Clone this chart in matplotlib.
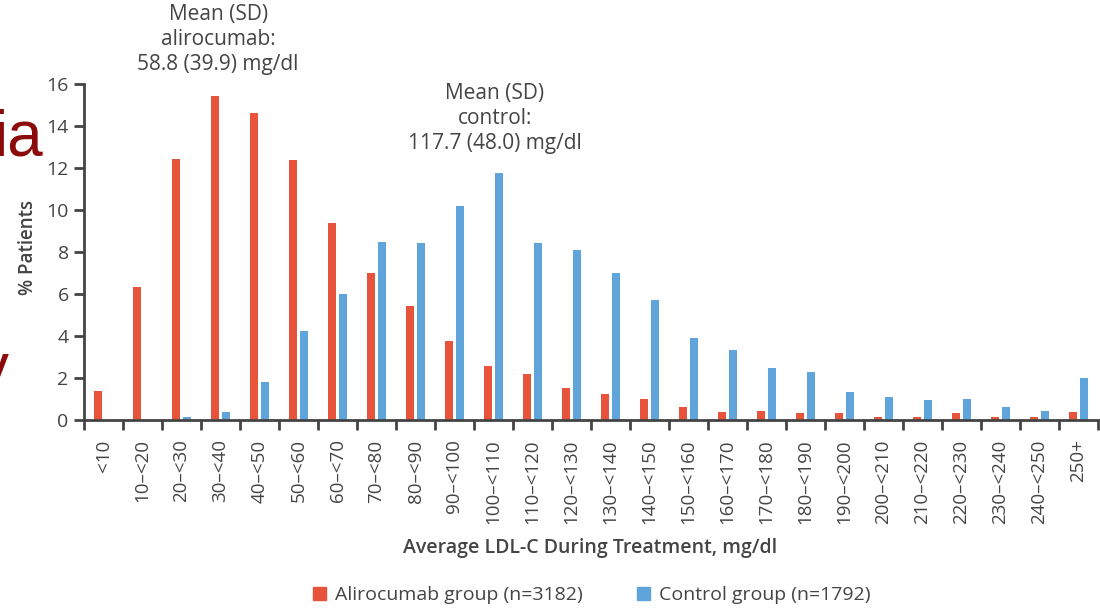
import matplotlib.pyplot as plt
import numpy as np
from matplotlib.patches import Patch

plt.rcParams['font.family'] = ['Open Sans', 'DejaVu Sans']

categories = ['<10', '10\u2013<20', '20\u2013<30', '30\u2013<40', '40\u2013<50', '50\u2013<60',
              '60\u2013<70', '70\u2013<80', '80\u2013<90', '90\u2013<100', '100\u2013<110',
              '110\u2013<120', '120\u2013<130', '130\u2013<140', '140\u2013<150', '150\u2013<160',
              '160\u2013<170', '170\u2013<180', '180\u2013<190', '190\u2013<200', '200\u2013<210',
              '210\u2013<220', '220\u2013<230', '230\u2013<240', '240\u2013<250', '250+']

alirocumab = [1.38, 6.31, 12.42, 15.42, 14.6, 12.37, 9.38, 6.98, 5.41, 3.78, 2.57,
              2.2, 1.54, 1.24, 1.0, 0.63, 0.38, 0.43, 0.33, 0.33, 0.13,
              0.13, 0.33, 0.13, 0.13, 0.4]
control = [0.0, 0.0, 0.16, 0.4, 1.82, 4.22, 6.01, 8.49, 8.42, 10.19, 11.74,
           8.43, 8.1, 6.98, 5.71, 3.9, 3.31, 2.5, 2.29, 1.31, 1.11,
           0.93, 1.01, 0.63, 0.43, 1.98]

alirocumab_label = 'Alirocumab group (n=3182)'
control_label = 'Control group (n=1792)'
red = '#e8533c'
blue = '#5fa4db'
grey = '#444444'

fig = plt.figure(figsize=(11, 6.09), dpi=100)
ax = fig.add_axes([84 / 1100, 1 - 420 / 609, 1014 / 1100, 336 / 609])

x = np.arange(len(categories)) + 0.5
ax.bar(x - 0.145, alirocumab, width=0.21, color=red)
ax.bar(x + 0.145, control, width=0.21, color=blue)

ax.set_xlim(0, len(categories))
ax.set_ylim(0, 16)
ax.set_yticks(range(0, 17, 2))

# ticks on the category boundaries, labels at the centres
ax.set_xticks(np.arange(len(categories) + 1))
ax.set_xticklabels([])
ax.set_xticks(x, minor=True)
ax.set_xticklabels(categories, minor=True, rotation=90, fontsize=13.5, color=grey)
ax.tick_params(axis='x', which='major', length=7, width=2, color=grey)
ax.tick_params(axis='x', which='minor', length=0, pad=14)
ax.tick_params(axis='y', length=7, width=2, color=grey, labelsize=14, labelcolor=grey, pad=4)

for side in ['top', 'right']:
    ax.spines[side].set_visible(False)
for side in ['left', 'bottom']:
    ax.spines[side].set_linewidth(2)
    ax.spines[side].set_color(grey)
ax.spines['bottom'].set_bounds(0, len(categories) + 0.15)

ax.text(3.44, 18.1, 'Mean (SD)\nalirocumab:\n58.8 (39.9) mg/dl', ha='center', va='center',
        fontsize=15, color=grey, linespacing=1.25, clip_on=False)
ax.text(10.54, 14.38, 'Mean (SD)\ncontrol:\n117.7 (48.0) mg/dl', ha='center', va='center',
        fontsize=15, color=grey, linespacing=1.25, clip_on=False)

fig.text(28 / 1100, 1 - 248 / 609, '% Patients', rotation=90, ha='center', va='center',
         fontsize=13.5, color=grey, fontweight='semibold')
fig.text(590 / 1100, 1 - 548 / 609, 'Average LDL-C During Treatment, mg/dl', ha='center', va='center',
         fontsize=14, color=grey, fontweight='semibold')

handles = [Patch(color=red), Patch(color=blue)]
fig.legend(handles, [alirocumab_label, control_label], loc='center', bbox_to_anchor=(592 / 1100, 1 - 595 / 609),
           ncol=2, frameon=False, fontsize=14, handlelength=0.67, handleheight=0.67,
           handletextpad=0.45, columnspacing=2.8, labelcolor=grey)

# slide text bleeding in at the left edge
fig.text(-6 / 1100, 1 - 155 / 609, 'ia', ha='left', va='baseline', fontsize=46,
         color='#8b0a0a', family='Liberation Sans')
fig.text(-23 / 1100, 1 - 388 / 609, 'y', ha='left', va='baseline', fontsize=46,
         color='#8b0a0a', family='Liberation Sans')

plt.savefig('out.png')
